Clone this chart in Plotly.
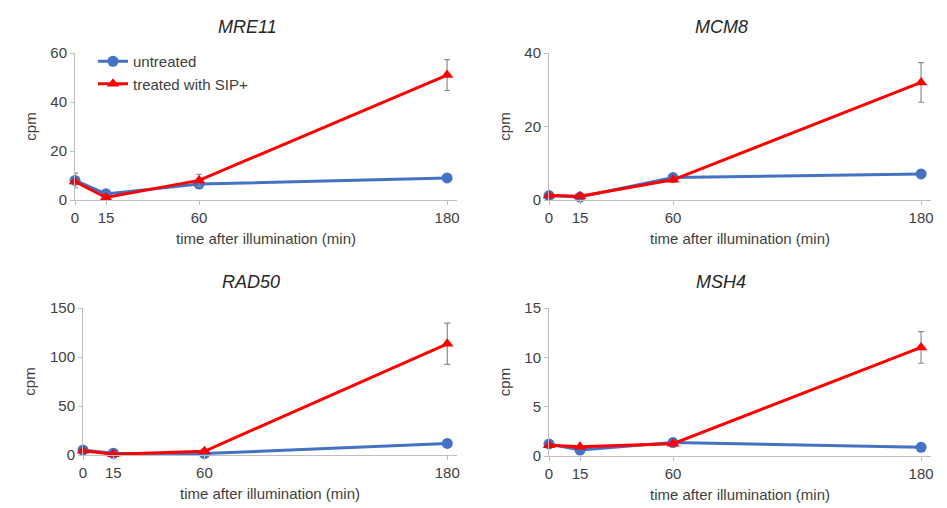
import plotly.graph_objects as go

times = [0, 15, 60, 180]
genes = ["MRE11", "MCM8", "RAD50", "MSH4"]

mre11_untreated = [8.0, 2.5, 6.5, 9.0]
mre11_untreated_err = [3.0, 0.5, 0.5, 1.2]
mre11_treated = [7.5, 1.0, 8.0, 51.0]
mre11_treated_err = [1.0, 0.5, 2.5, 6.3]

mcm8_untreated = [1.2, 0.8, 6.1, 7.1]
mcm8_untreated_err = [0.3, 0.2, 0.4, 0.5]
mcm8_treated = [1.2, 1.0, 5.5, 32.0]
mcm8_treated_err = [0.3, 0.3, 0.5, 5.4]

rad50_untreated = [5.0, 1.8, 1.5, 11.8]
rad50_untreated_err = [1.0, 0.5, 0.5, 1.0]
rad50_treated = [4.4, 0.8, 3.8, 113.5]
rad50_treated_err = [1.0, 0.5, 0.8, 21.0]

msh4_untreated = [1.22, 0.6, 1.36, 0.88]
msh4_untreated_err = [0.1, 0.05, 0.1, 0.1]
msh4_treated = [1.1, 0.95, 1.25, 11.0]
msh4_treated_err = [0.1, 0.1, 0.1, 1.6]

y_max = [60, 40, 150, 15]
y_dtick = [20, 20, 50, 5]

untreated = [mre11_untreated, mcm8_untreated, rad50_untreated, msh4_untreated]
untreated_err = [mre11_untreated_err, mcm8_untreated_err, rad50_untreated_err, msh4_untreated_err]
treated = [mre11_treated, mcm8_treated, rad50_treated, msh4_treated]
treated_err = [mre11_treated_err, mcm8_treated_err, rad50_treated_err, msh4_treated_err]

BLUE = "#4472C4"
RED = "#FF0000"
GREY_TXT = "#404040"
FONT = "Liberation Sans, Arial, sans-serif"

W, H = 947, 508
# plot area pixel boxes: (left, right, top, bottom)
boxes = [(75, 457, 53, 200), (549, 931, 53, 200), (83, 457, 308, 455), (549, 931, 308, 456)]

fig = go.Figure()
for i, g in enumerate(genes):
    ax = "" if i == 0 else str(i + 1)
    for name, vals, errs, color, sym, size in [
        ("untreated", untreated[i], untreated_err[i], BLUE, "circle", 11),
        ("treated with SIP+", treated[i], treated_err[i], RED, "triangle-up", 11),
    ]:
        fig.add_trace(go.Scatter(
            x=times, y=vals, name=name, mode="lines+markers",
            line=dict(color=color, width=3),
            marker=dict(color=color, symbol=sym, size=size),
            error_y=dict(type="data", array=errs, visible=True, color="#8c8c8c", thickness=1.2, width=3),
            xaxis="x" + ax, yaxis="y" + ax, showlegend=(i == 0), cliponaxis=False,
        ))
    l, r, t, b = boxes[i]
    xa = dict(domain=[l / W, r / W], range=[0, 184.8], tickvals=times, ticktext=[str(v) for v in times],
              showline=True, linecolor="#bfbfbf", linewidth=1, ticks="outside", ticklen=4, tickcolor="#bfbfbf",
              showgrid=False, zeroline=False, tickfont=dict(size=15, color=GREY_TXT, family=FONT),
              title=dict(text="time after illumination (min)", font=dict(size=15, color=GREY_TXT, family=FONT), standoff=8),
              anchor="y" + ax, fixedrange=True, automargin=False)
    ya = dict(domain=[1 - b / H, 1 - t / H], range=[0, y_max[i]], dtick=y_dtick[i],
              showline=True, linecolor="#bfbfbf", linewidth=1, ticks="outside", ticklen=4, tickcolor="#bfbfbf",
              showgrid=False, zeroline=False, tickfont=dict(size=15, color=GREY_TXT, family=FONT),
              title=dict(text="cpm", font=dict(size=15, color=GREY_TXT, family=FONT), standoff=10),
              anchor="x" + ax, fixedrange=True, automargin=False)
    fig.layout["xaxis" + ax] = xa
    fig.layout["yaxis" + ax] = ya
    fig.add_annotation(text="<i>" + g + "</i>", x=((l + r) / 2 - 19) / W, y=1 - (t - 26) / H,
                       xref="paper", yref="paper", showarrow=False, xanchor="center", yanchor="middle",
                       font=dict(size=18, color="#262626", family=FONT))

fig.update_layout(
    width=W, height=H, margin=dict(l=0, r=0, t=0, b=0, autoexpand=False),
    paper_bgcolor="white", plot_bgcolor="white",
    legend=dict(x=93 / W, y=1 - 45 / H, xanchor="left", yanchor="top", bgcolor="rgba(0,0,0,0)",
                font=dict(size=15, color=GREY_TXT, family=FONT), tracegroupgap=0, itemwidth=30),
    showlegend=True,
)

fig.write_html("out.html", config={"displayModeBar": False},
               post_script="document.body.style.margin='0';document.body.style.overflow='hidden';")
